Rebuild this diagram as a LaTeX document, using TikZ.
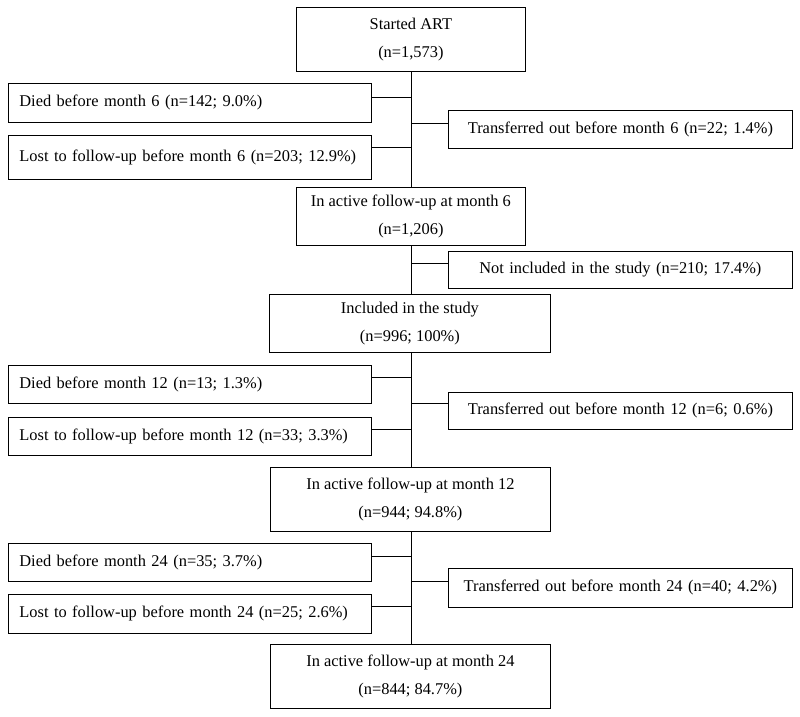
\documentclass[tikz,border=0pt]{standalone}
\usepackage{fontspec}
\setmainfont{Liberation Serif}
\begin{document}
\begin{tikzpicture}[x=1pt,y=-1pt,
  every node/.style={font=\fontsize{16.4}{28}\selectfont},
  cbox/.style={draw, line width=0.8pt, anchor=north west, inner sep=0pt, align=center},
  lbox/.style={draw, line width=0.8pt, anchor=north west, inner ysep=0pt, inner xsep=11pt,
    minimum width=363pt, text width=341pt, align=left},
  rbox/.style={draw, line width=0.8pt, anchor=north west, inner ysep=0pt, inner xsep=8pt,
    minimum width=344pt, text width=328pt, align=center},
  conn/.style={line width=0.8pt}]
\useasboundingbox (0,0) rectangle (800,716);
% main column
\node[cbox, minimum width=229pt, minimum height=64pt] (start) at (296,7) {Started ART\\(n=1,573)};
\node[cbox, minimum width=229pt, minimum height=58pt] (act6) at (296,187) {In active follow-up at month 6\\(n=1,206)};
\node[cbox, minimum width=281pt, minimum height=58pt] (incl) at (269,294) {Included in the study\\(n=996; 100\%)};
\node[cbox, minimum width=280pt, minimum height=64pt] (act12) at (270,467) {In active follow-up at month 12\\(n=944; 94.8\%)};
\node[cbox, minimum width=280pt, minimum height=64pt] (act24) at (270,644) {In active follow-up at month 24\\(n=844; 84.7\%)};
% side boxes
\node[lbox, minimum height=39pt] (died6) at (8,83) {Died before month 6 (n=142; 9.0\%)};
\node[rbox, minimum height=38pt] (trans6) at (448,110) {Transferred out before month 6 (n=22; 1.4\%)};
\node[lbox, minimum height=44pt] (lost6) at (8,135) {Lost to follow-up before month 6 (n=203; 12.9\%)};
\node[rbox, minimum height=37pt] (notinc) at (448,251) {Not included in the study (n=210; 17.4\%)};
\node[lbox, minimum height=38pt] (died12) at (8,365) {Died before month 12 (n=13; 1.3\%)};
\node[rbox, minimum height=37pt] (trans12) at (448,392) {Transferred out before month 12 (n=6; 0.6\%)};
\node[lbox, minimum height=38pt] (lost12) at (8,417) {Lost to follow-up before month 12 (n=33; 3.3\%)};
\node[lbox, minimum height=38pt] (died24) at (8,543) {Died before month 24 (n=35; 3.7\%)};
\node[rbox, minimum height=39pt] (trans24) at (448,568) {Transferred out before month 24 (n=40; 4.2\%)};
\node[lbox, minimum height=39pt] (lost24) at (8,594) {Lost to follow-up before month 24 (n=25; 2.6\%)};
% junctions on trunk
\coordinate (j1) at (411,97);
\coordinate (j2) at (411,123);
\coordinate (j3) at (411,147);
\coordinate (j4) at (411,263);
\coordinate (j5) at (411,377);
\coordinate (j6) at (411,403);
\coordinate (j7) at (411,429);
\coordinate (j8) at (411,556);
\coordinate (j9) at (411,581);
\coordinate (j10) at (411,606);
% trunk
\draw[conn] (start.south -| j1) -- (act6.north -| j1);
\draw[conn] (act6.south -| j1) -- (incl.north -| j1);
\draw[conn] (incl.south -| j1) -- (act12.north -| j1);
\draw[conn] (act12.south -| j1) -- (act24.north -| j1);
% branches
\draw[conn] (died6.east |- j1) -- (j1);
\draw[conn] (j2) -- (trans6.west |- j2);
\draw[conn] (lost6.east |- j3) -- (j3);
\draw[conn] (j4) -- (notinc.west |- j4);
\draw[conn] (died12.east |- j5) -- (j5);
\draw[conn] (j6) -- (trans12.west |- j6);
\draw[conn] (lost12.east |- j7) -- (j7);
\draw[conn] (died24.east |- j8) -- (j8);
\draw[conn] (j9) -- (trans24.west |- j9);
\draw[conn] (lost24.east |- j10) -- (j10);
\end{tikzpicture}
\end{document}
